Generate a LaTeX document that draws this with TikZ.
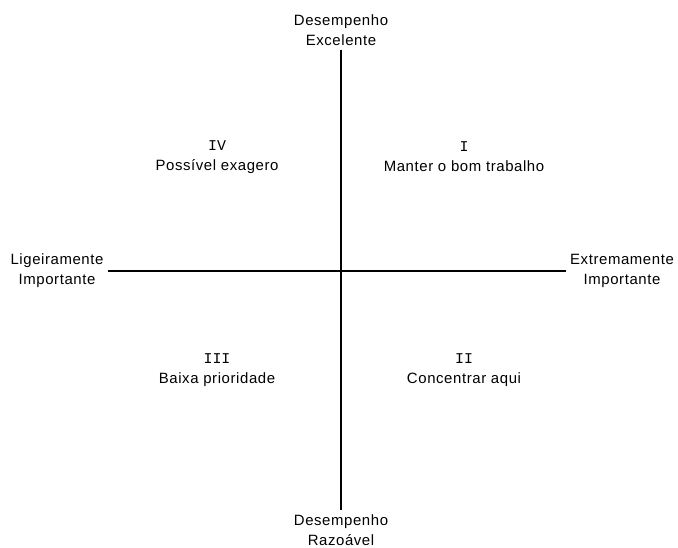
\documentclass[tikz,border=0pt]{standalone}
\usepackage{fontspec}
\setmainfont{Liberation Sans}[LetterSpace=4]
\newfontfamily\numfont{Liberation Mono}
\usetikzlibrary{positioning}
\tikzset{
  every picture/.style={line join=round, x=0.75pt, y=-0.75pt},
  axislabel/.style={align=center, inner sep=3pt, font=\fontsize{11.2}{14.8}\selectfont},
  quadlabel/.style={align=center, inner sep=0pt, font=\fontsize{11.2}{14.8}\selectfont},
  axis/.style={line width=1.5pt},
}
\newcommand{\quadnum}[1]{{\numfont #1}}

\begin{document}
\begin{tikzpicture}
\useasboundingbox (0,0) rectangle (678,548);
% axis ends
\node[axislabel] (top) at (341,30) {Desempenho\\Excelente};
\node[axislabel] (bottom) at (341,530) {Desempenho\\Razoável};
\node[axislabel] (left) at (57,271) {Ligeiramente\\Importante};
\node[axislabel] (right) at (622,271) {Extremamente\\Importante};
\draw[axis] (top) -- (bottom);
\draw[axis] (left) -- (right);
% quadrants
\node[quadlabel] (q1) at (464,157) {\quadnum{I}\\Manter o bom trabalho};
\node[quadlabel] (q2) at (464,370) {\quadnum{II}\\Concentrar aqui};
\node[quadlabel] (q3) at (217,370) {\quadnum{III}\\Baixa prioridade};
\node[quadlabel] (q4) at (217,157) {\quadnum{IV}\\Possível exagero};
\end{tikzpicture}
\end{document}
